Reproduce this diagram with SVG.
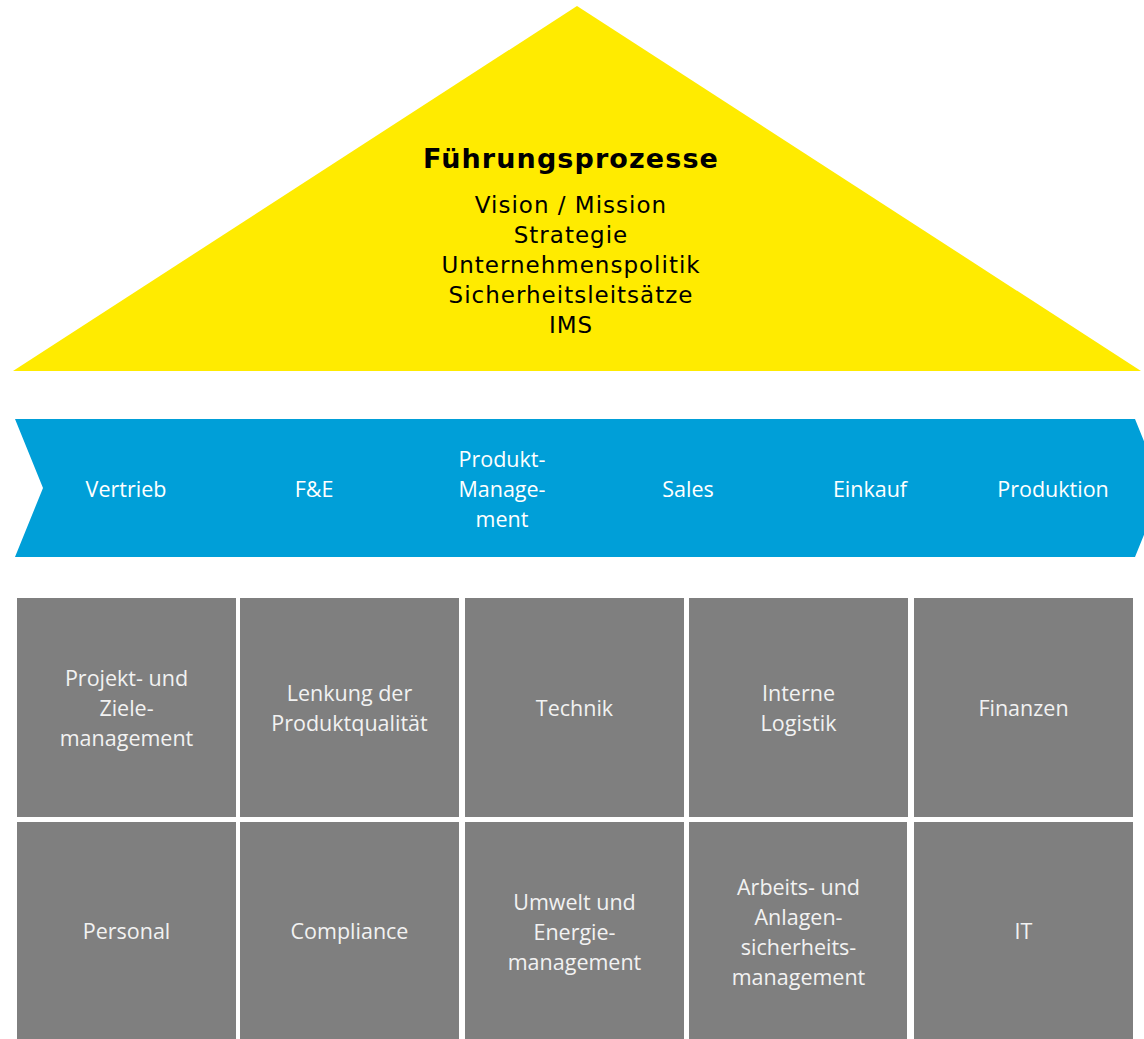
<svg xmlns="http://www.w3.org/2000/svg" width="1144" height="1039" viewBox="0 0 1144 1039">
<style>
.tri{fill:#FFEB00}
.arr{fill:#009FD8}
.cell{fill:#7F7F7F}
.h{font-family:"DejaVu Sans",sans-serif;font-weight:bold;font-size:27px;letter-spacing:1.1px;fill:#000;text-anchor:middle}
.t{font-family:"DejaVu Sans",sans-serif;font-size:23px;letter-spacing:1px;fill:#000;text-anchor:middle}
.w{font-family:"Open Sans",sans-serif;font-size:21.5px;fill:#fff;text-anchor:middle}
.g{font-family:"Open Sans",sans-serif;font-size:21.5px;fill:#F2F2F2;text-anchor:middle}
</style>
<g id="fuehrungsprozesse">
<polygon class="tri" points="577,6 1141,371 13,371"/>
<text class="h" x="571" y="168">Führungsprozesse</text>
<text class="t" x="571" y="213">Vision / Mission</text>
<text class="t" x="571" y="243">Strategie</text>
<text class="t" x="571" y="273">Unternehmenspolitik</text>
<text class="t" x="571" y="303">Sicherheitsleitsätze</text>
<text class="t" x="571" y="333">IMS</text>
</g>
<g id="kernprozesse">
<polygon class="arr" points="15,419 1135,419 1163,488 1135,557 15,557 43,488"/>
<text class="w" x="126" y="497">Vertrieb</text>
<text class="w" x="314" y="497">F&amp;E</text>
<text class="w" x="502" y="467">Produkt-</text>
<text class="w" x="502" y="497">Manage-</text>
<text class="w" x="502" y="527">ment</text>
<text class="w" x="688" y="497">Sales</text>
<text class="w" x="870" y="497">Einkauf</text>
<text class="w" x="1053" y="497">Produktion</text>
</g>
<g id="c11"><rect class="cell" x="17" y="598" width="219" height="219"/>
<text class="g" x="126.5" y="686">Projekt- und</text><text class="g" x="126.5" y="716">Ziele-</text><text class="g" x="126.5" y="746">management</text></g>
<g id="c12"><rect class="cell" x="240" y="598" width="219" height="219"/>
<text class="g" x="349.5" y="701">Lenkung der</text><text class="g" x="349.5" y="731">Produktqualität</text></g>
<g id="c13"><rect class="cell" x="465" y="598" width="219" height="219"/>
<text class="g" x="574.5" y="716">Technik</text></g>
<g id="c14"><rect class="cell" x="689" y="598" width="219" height="219"/>
<text class="g" x="798.5" y="701">Interne</text><text class="g" x="798.5" y="731">Logistik</text></g>
<g id="c15"><rect class="cell" x="914" y="598" width="219" height="219"/>
<text class="g" x="1023.5" y="716">Finanzen</text></g>
<g id="c21"><rect class="cell" x="17" y="822" width="219" height="217"/>
<text class="g" x="126.5" y="939">Personal</text></g>
<g id="c22"><rect class="cell" x="240" y="822" width="219" height="217"/>
<text class="g" x="349.5" y="939">Compliance</text></g>
<g id="c23"><rect class="cell" x="465" y="822" width="219" height="217"/>
<text class="g" x="574.5" y="910">Umwelt und</text><text class="g" x="574.5" y="940">Energie-</text><text class="g" x="574.5" y="970">management</text></g>
<g id="c24"><rect class="cell" x="689" y="822" width="218" height="217"/>
<text class="g" x="798.5" y="895">Arbeits- und</text><text class="g" x="798.5" y="925">Anlagen-</text><text class="g" x="798.5" y="955">sicherheits-</text><text class="g" x="798.5" y="985">management</text></g>
<g id="c25"><rect class="cell" x="914" y="822" width="219" height="217"/>
<text class="g" x="1023.5" y="939">IT</text></g>
</svg>
